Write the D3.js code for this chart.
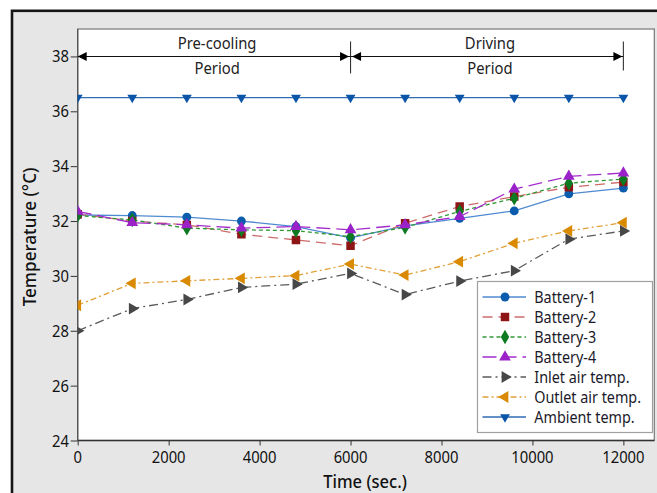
<!DOCTYPE html>
<html lang="en">
<head>
    <meta charset="UTF-8">
    <title>Battery temperature</title>
    <script src="https://d3js.org/d3.v7.min.js"></script>
</head>
<body>
<svg id="chart"></svg>
</body>

<style>
    body {
        margin: 0;
        background: #fff;
    }

    svg {
        display: block;
        font-family: "Noto Sans", "Open Sans", sans-serif;
    }

    text {
        fill: #111;
    }
</style>

<script>
    // data
    const times = [0, 1200, 2400, 3600, 4800, 6000, 7200, 8400, 9600, 10800, 12000];
    const battery1 = [32.22, 32.2, 32.14, 32.0, 31.8, 31.39, 31.82, 32.1, 32.37, 32.99, 33.2];
    const battery2 = [32.25, 32.0, 31.86, 31.52, 31.31, 31.1, 31.92, 32.53, 32.89, 33.23, 33.42];
    const battery3 = [32.2, 32.04, 31.74, 31.68, 31.65, 31.43, 31.77, 32.35, 32.83, 33.38, 33.53];
    const battery4 = [32.35, 31.94, 31.86, 31.74, 31.8, 31.68, 31.86, 32.16, 33.16, 33.63, 33.75];
    const inletAir = [28.0, 28.81, 29.14, 29.58, 29.7, 30.09, 29.32, 29.81, 30.19, 31.34, 31.64];
    const outletAir = [28.93, 29.73, 29.82, 29.91, 30.01, 30.43, 30.03, 30.52, 31.19, 31.64, 31.94];
    const ambient = [36.5, 36.5, 36.5, 36.5, 36.5, 36.5, 36.5, 36.5, 36.5, 36.5, 36.5];

    const seriesNames = ['Battery-1', 'Battery-2', 'Battery-3', 'Battery-4',
        'Inlet air temp.', 'Outlet air temp.', 'Ambient temp.'];
    const seriesValues = [battery1, battery2, battery3, battery4, inletAir, outletAir, ambient];

    const xTicks = [0, 2000, 4000, 6000, 8000, 10000, 12000];
    const yTicks = [24, 26, 28, 30, 32, 34, 36, 38];

    const periodNames = [['Pre-cooling', 'Period'], ['Driving', 'Period']];
    const periodBounds = [[0, 6000], [6000, 12000]];
    const periodLevel = 38;

    // look of each series (same order as seriesNames)
    const styles = [
        {line: '#4f8ad0', marker: '#0b5cad', dash: null, symbol: d3.symbolCircle, size: 62, rot: 0},
        {line: '#cc6b6b', marker: '#8e1515', dash: '10,6', symbol: d3.symbolSquare, size: 72, rot: 0},
        {line: '#2f9a36', marker: '#0d7a22', dash: '4,3', symbol: d3.symbolDiamond, size: 62, rot: 0},
        {line: '#a42ccc', marker: '#9b22c8', dash: '14,6', symbol: d3.symbolTriangle, size: 60, rot: 0},
        {line: '#5a5a5a', marker: '#474747', dash: '9,4,2,4', symbol: d3.symbolTriangle, size: 60, rot: 90},
        {line: '#e2a038', marker: '#d98a00', dash: '6,3,2,3', symbol: d3.symbolTriangle, size: 60, rot: -90},
        {line: '#2f6db5', marker: '#0b55a8', dash: null, symbol: d3.symbolTriangle, size: 42, rot: 180}
    ];

    const width = 657;
    const height = 493;
    const squash = 0.87;   // the source picture is a bit narrow horizontally

    const plot = {left: 77.7, right: 654.3, top: 29, bottom: 440.5};

    const x = d3.scaleLinear().domain([0, 12680]).range([plot.left, plot.right]);
    const y = d3.scaleLinear().domain([24, 39]).range([plot.bottom, plot.top]);

    const svg = d3.select('#chart')
        .attr('width', width)
        .attr('height', height);

    // gray frame of the figure
    svg.append('rect')
        .attr('x', 12).attr('y', 10.8)
        .attr('width', 720).attr('height', 600)
        .attr('fill', '#e6e6e6')
        .attr('stroke', '#151515')
        .attr('stroke-width', 2.6);

    svg.append('rect')
        .attr('x', plot.left).attr('y', plot.top)
        .attr('width', plot.right - plot.left)
        .attr('height', plot.bottom - plot.top)
        .attr('fill', '#fff')
        .attr('stroke', '#777')
        .attr('stroke-width', 1.2);

    svg.append('clipPath').attr('id', 'clip')
        .append('rect')
        .attr('x', plot.left).attr('y', plot.top)
        .attr('width', plot.right - plot.left)
        .attr('height', plot.bottom - plot.top);

    function addText(parent, tx, ty, str, size, anchor, weight, k) {
        return parent.append('text')
            .attr('transform', `translate(${tx},${ty}) scale(${k || squash},1)`)
            .attr('text-anchor', anchor || 'middle')
            .style('font-size', size + 'px')
            .style('font-weight', weight || 400)
            .text(str);
    }

    // axes
    const axisX = svg.append('g')
        .attr('transform', `translate(0,${plot.bottom})`)
        .call(d3.axisBottom(x).tickValues(xTicks).tickSize(5).tickFormat(''));
    axisX.select('.domain').remove();
    axisX.selectAll('line').attr('stroke', '#333');
    svg.append('line')
        .attr('x1', plot.left).attr('x2', plot.right)
        .attr('y1', plot.bottom).attr('y2', plot.bottom)
        .attr('stroke', '#333').attr('stroke-width', 1.3);

    const axisY = svg.append('g')
        .attr('transform', `translate(${plot.left},0)`)
        .call(d3.axisLeft(y).tickValues(yTicks).tickSize(7).tickFormat(''));
    axisY.select('.domain').remove();
    axisY.selectAll('line').attr('stroke', '#333');
    svg.append('line')
        .attr('x1', plot.left).attr('x2', plot.left)
        .attr('y1', plot.top).attr('y2', plot.bottom)
        .attr('stroke', '#555').attr('stroke-width', 1.3);

    xTicks.forEach(t => addText(svg, x(t), 463, t, 17, 'middle'));
    yTicks.forEach(t => addText(svg, 69, y(t) + 6, t, 17, 'end'));

    addText(svg, plot.left + (plot.right - plot.left) / 2 - 1, 488, 'Time (sec.)', 18, 'middle', 500, 0.92);
    svg.append('text')
        .attr('transform', 'translate(36,237) rotate(-90) scale(0.95,1)')
        .attr('text-anchor', 'middle')
        .style('font-size', '18px')
        .style('font-weight', 500)
        .text('Temperature (°C)');

    // series
    const gData = svg.append('g').attr('clip-path', 'url(#clip)');
    const lineGen = d3.line().x(d => x(d[0])).y(d => y(d[1]));

    function symbolPath(st) {
        return d3.symbol().type(st.symbol).size(st.size)();
    }

    seriesValues.forEach((vals, i) => {
        const st = styles[i];
        const pts = times.map((t, j) => [t, vals[j]]);
        gData.append('path')
            .attr('d', lineGen(pts))
            .attr('fill', 'none')
            .attr('stroke', st.line)
            .attr('stroke-width', 1.3)
            .attr('stroke-dasharray', st.dash);
        gData.append('g').selectAll('path')
            .data(pts)
            .join('path')
            .attr('d', symbolPath(st))
            .attr('transform', d => `translate(${x(d[0])},${y(d[1])}) rotate(${st.rot})`)
            .attr('fill', st.marker);
    });

    // period annotation
    const gPer = svg.append('g');

    function arrowHead(xTip, dir) {
        const yy = y(periodLevel);
        gPer.append('path')
            .attr('d', `M${xTip},${yy} L${xTip - dir * 9},${yy - 4.5} L${xTip - dir * 9},${yy + 4.5} Z`)
            .attr('fill', '#000');
    }

    periodBounds.forEach((b, i) => {
        const yy = y(periodLevel);
        const x0 = x(b[0]);
        const x1 = x(b[1]);
        gPer.append('line')
            .attr('x1', x0).attr('x2', x1)
            .attr('y1', yy).attr('y2', yy)
            .attr('stroke', '#111').attr('stroke-width', 1.1);
        arrowHead(x0 + (i === 0 ? 0 : 1.5), -1);
        arrowHead(x1 - (i === 0 ? 1.5 : 1), 1);
        if (b[1] > 0 && i >= 0) {
            gPer.append('line')
                .attr('x1', x1).attr('x2', x1)
                .attr('y1', yy - 15).attr('y2', yy + (i === 0 ? 17 : 14))
                .attr('stroke', '#333').attr('stroke-width', 1.1);
        }
        const cx = (x0 + x1) / 2 + 3;
        addText(gPer, cx, 48.5, periodNames[i][0], 17, 'middle').style('fill', '#222');
        addText(gPer, cx, 74, periodNames[i][1], 17, 'middle').style('fill', '#222');
    });

    // legend
    const legend = svg.append('g');
    legend.append('rect')
        .attr('x', 477.5).attr('y', 281.5)
        .attr('width', 175).attr('height', 151)
        .attr('fill', '#fff')
        .attr('stroke', '#a0a0a0')
        .attr('stroke-width', 1.2);

    seriesNames.forEach((name, i) => {
        const st = styles[i];
        const ly = 297 + i * 20;
        legend.append('line')
            .attr('x1', 482.5).attr('x2', 526)
            .attr('y1', ly).attr('y2', ly)
            .attr('stroke', st.line)
            .attr('stroke-width', 1.3)
            .attr('stroke-dasharray', st.dash);
        legend.append('path')
            .attr('d', symbolPath(st))
            .attr('transform', `translate(505,${ly}) rotate(${st.rot})`)
            .attr('fill', st.marker);
        addText(legend, 534.3, ly + 5.5, name, 16.5, 'start').style('fill', '#1a1a2a');
    });
</script>
</html>
